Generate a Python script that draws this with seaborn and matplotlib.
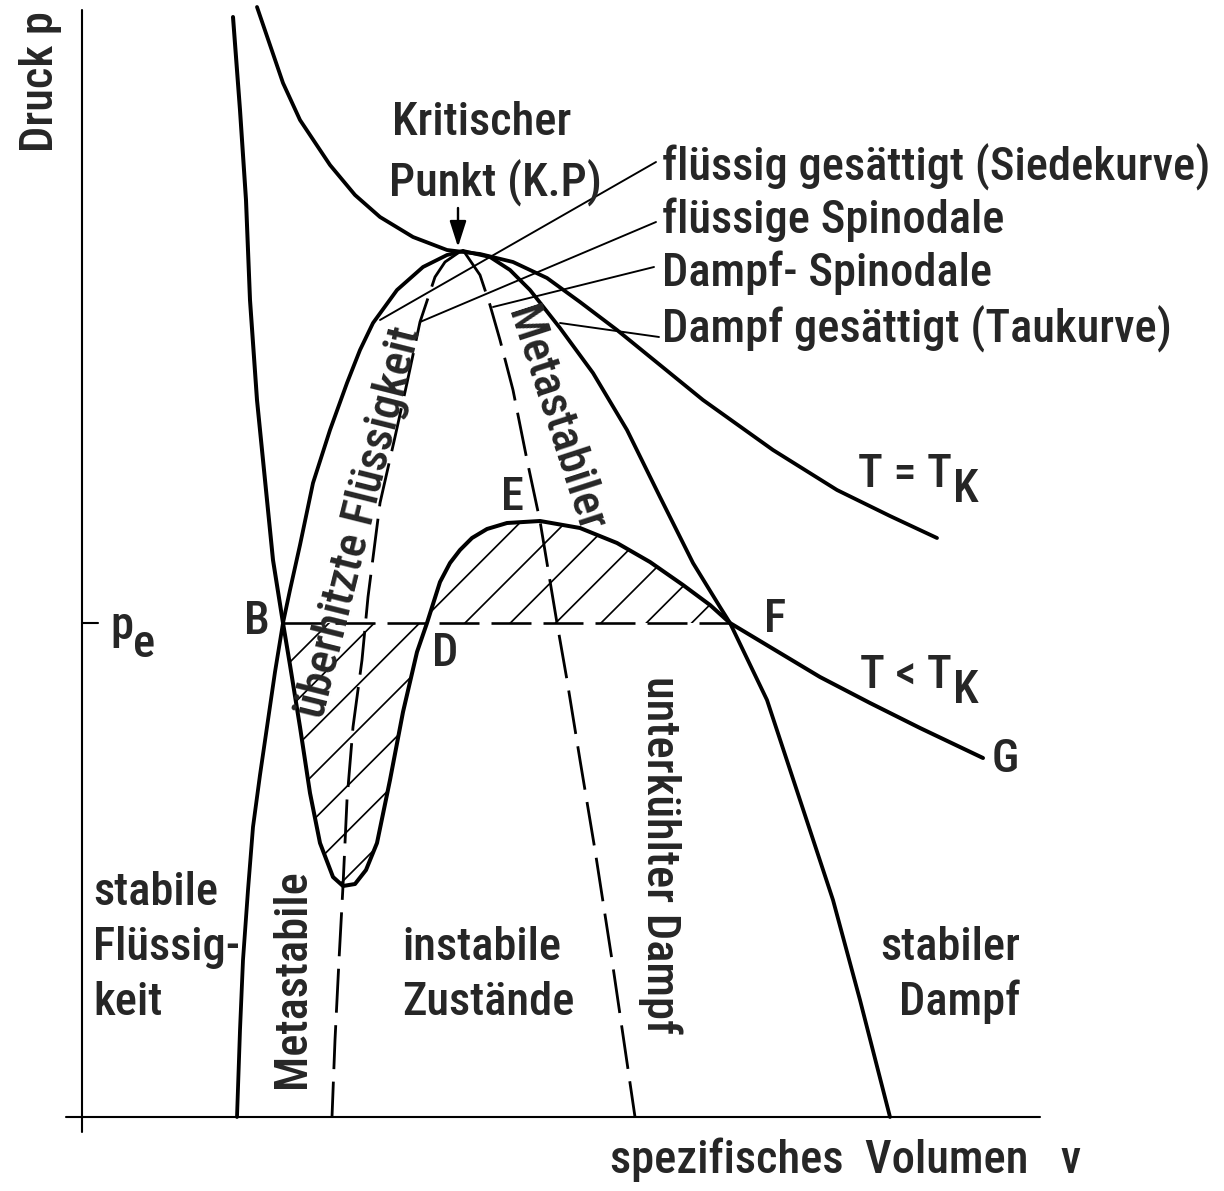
import matplotlib
matplotlib.use("Agg")
import matplotlib.pyplot as plt
import matplotlib.font_manager as fm
import seaborn as sns

# ---------------------------------------------------------------
# p-v diagram of a pure substance (schematic, arbitrary units)
# v: specific volume, p: pressure
# ---------------------------------------------------------------

# isotherm T < T_K (van der Waals loop B - D - E - F - G)
iso_low_v = [1.51, 1.58, 1.64, 1.68, 1.75, 1.83, 1.91, 2.01, 2.08, 2.18,
             2.28, 2.38, 2.51, 2.61, 2.73, 2.84, 2.95, 3.08, 3.21, 3.35,
             3.45, 3.58, 3.68, 3.78, 3.90, 4.05, 4.25, 4.58, 4.98, 5.35,
             5.68, 6.01, 6.28, 6.48, 6.93, 7.38, 7.88, 8.38, 9.01]
iso_low_p = [11.00, 10.07, 9.17, 8.17, 7.17, 6.37, 5.57, 4.94, 4.52, 3.90,
             3.24, 2.74, 2.40, 2.31, 2.33, 2.47, 2.74, 3.37, 4.05, 4.65,
             4.94, 5.35, 5.54, 5.67, 5.79, 5.88, 5.94, 5.96, 5.89, 5.74,
             5.55, 5.32, 5.12, 4.94, 4.67, 4.40, 4.14, 3.89, 3.59]

# critical isotherm T = T_K
iso_crit_v = [1.75, 1.88, 2.01, 2.18, 2.48, 2.73, 2.98, 3.31, 3.65, 3.98,
              4.31, 4.65, 4.98, 5.35, 5.78, 6.21, 6.91, 7.55, 8.08, 8.55]
iso_crit_p = [11.10, 10.72, 10.34, 9.97, 9.52, 9.22, 9.00, 8.80, 8.67, 8.63,
              8.55, 8.39, 8.15, 7.87, 7.52, 7.17, 6.67, 6.27, 6.01, 5.79]

# saturated liquid (Siedekurve), bottom up to the critical point
boil_v = [1.55, 1.58, 1.61, 1.66, 1.71, 1.78, 1.85, 1.93, 2.01, 2.08,
          2.18, 2.31, 2.48, 2.65, 2.78, 2.91, 3.15, 3.41, 3.65, 3.81]
boil_p = [0.00, 0.87, 1.57, 2.27, 2.90, 3.42, 3.90, 4.45, 4.94, 5.27,
          5.72, 6.34, 6.87, 7.34, 7.67, 7.94, 8.27, 8.50, 8.62, 8.66]

# saturated vapour (Taukurve), critical point down to the v axis
dew_v = [3.81, 4.08, 4.28, 4.48, 4.78, 5.11, 5.45, 5.78, 6.11, 6.38,
         6.48, 6.85, 7.18, 7.51, 7.78, 8.08]
dew_p = [8.66, 8.60, 8.47, 8.27, 7.89, 7.44, 6.87, 6.20, 5.54, 5.10,
         4.94, 4.17, 3.17, 2.17, 1.17, 0.00]

# liquid spinodal
spin_liq_v = [3.76, 3.63, 3.53, 3.38, 3.25, 3.13, 2.98, 2.86, 2.80, 2.71,
              2.65, 2.61, 2.57, 2.53, 2.50]
spin_liq_p = [8.64, 8.55, 8.40, 7.95, 7.34, 6.80, 6.14, 5.20, 4.57, 3.90,
              3.17, 2.31, 1.57, 0.77, 0.00]

# vapour spinodal
spin_vap_v = [3.83, 3.98, 4.08, 4.18, 4.31, 4.45, 4.58, 4.75, 4.85, 4.98,
              5.13, 5.30, 5.53]
spin_vap_p = [8.64, 8.42, 8.12, 7.77, 7.27, 6.57, 5.96, 4.94, 4.37, 3.57,
              2.67, 1.57, 0.00]

# equilibrium pressure p_e and the points B, D, F on it
p_e = 4.94
v_B, v_D, v_F = 2.01, 3.45, 6.48

# leader lines: (label end) -> (curve point)
leader_v0 = [5.74, 5.74, 5.72, 5.77]
leader_p0 = [9.55, 8.95, 8.50, 7.80]
leader_v1 = [2.98, 3.38, 4.11, 4.78]
leader_p1 = [7.97, 7.95, 8.10, 7.94]
leader_labels = ["flüssig gesättigt (Siedekurve)", "flüssige Spinodale",
                 "Dampf- Spinodale", "Dampf gesättigt (Taukurve)"]
leader_label_p = [9.36, 8.84, 8.31, 7.74]

# ---------------------------------------------------------------
sns.set_theme(style="white")
names = {f.name for f in fm.fontManager.ttflist}
font = next((n for n in ["Liberation Sans Narrow", "Roboto Condensed"]
             if n in names), "DejaVu Sans")
plt.rcParams["font.family"] = [font, "DejaVu Sans"]
plt.rcParams["font.weight"] = "medium"
if font == "DejaVu Sans":
    plt.rcParams["font.stretch"] = "condensed"

DPI = 136
PX = 72.0 / DPI          # one pixel in points


def px(n):
    return n * PX


plt.rcParams["hatch.color"] = "black"
plt.rcParams["hatch.linewidth"] = px(1.7)
plt.rcParams["lines.scale_dashes"] = False

FS = px(46.5)
INK = "black"

fig = plt.figure(figsize=(1224 / DPI, 1191 / DPI), dpi=DPI)
ax = fig.add_axes([0, 0, 1, 1])
ax.set_xlim(-0.82, 11.42)
ax.set_ylim(-0.74, 11.17)
ax.axis("off")


def curve(v, p, lw, ls="-"):
    sns.lineplot(x=v, y=p, sort=False, estimator=None, color=INK,
                 linewidth=px(lw), linestyle=ls, ax=ax,
                 solid_capstyle="round", dash_capstyle="butt")


SPIN_DASH = (0, (px(44), px(12.5)))
PE_DASH = (0, (px(40), px(12)))

# coordinate axes
curve([0.0, 0.0], [-0.15, 11.07], 2.1)
curve([-0.16, 9.58], [0.0, 0.0], 2.1)
curve([0.0, 0.16], [p_e, p_e], 2.1)

# hatched areas between the loop and the p_e line
lo = [i for i, v in enumerate(iso_low_v) if v_B <= v <= v_D]
up = [i for i, v in enumerate(iso_low_v) if v_D <= v <= v_F]
ax.fill_between([iso_low_v[i] for i in lo], [iso_low_p[i] for i in lo], p_e,
                facecolor="none", edgecolor=INK, hatch="/", linewidth=0)
ax.fill_between([iso_low_v[i] for i in up], [iso_low_p[i] for i in up], p_e,
                facecolor="none", edgecolor=INK, hatch="/", linewidth=0)

# p_e line
curve([v_B, v_F], [p_e, p_e], 2.6, PE_DASH)

# spinodals
curve(spin_liq_v, spin_liq_p, 2.8, SPIN_DASH)
curve(spin_vap_v, spin_vap_p, 2.8, SPIN_DASH)

# saturation lines and isotherms
curve(boil_v, boil_p, 3.8)
curve(dew_v, dew_p, 3.8)
curve(iso_crit_v, iso_crit_p, 3.8)
curve(iso_low_v, iso_low_p, 4.0)

# leader lines and their labels
for v0, p0, v1, p1 in zip(leader_v0, leader_p0, leader_v1, leader_p1):
    curve([v0, v1], [p0, p1], 1.9)
for txt, pl in zip(leader_labels, leader_label_p):
    ax.text(5.80, pl, txt, fontsize=FS, ha="left", va="baseline")

# critical point
ax.text(3.10, 9.82, "Kritischer", fontsize=FS, ha="left", va="baseline")
ax.text(3.07, 9.20, "Punkt (K.P)", fontsize=FS, ha="left", va="baseline")
ax.annotate("", xy=(3.76, 8.70), xytext=(3.76, 9.09),
            arrowprops=dict(arrowstyle="-|>,head_length=1.0,head_width=0.32",
                            mutation_scale=px(22), color=INK, lw=px(2.4),
                            shrinkA=0, shrinkB=0))

# axis titles
ax.text(-0.42, 10.35, "Druck p", fontsize=FS, rotation=90,
        ha="center", va="center")
ax.text(5.28, -0.56, "spezifisches  Volumen   v", fontsize=FS,
        ha="left", va="baseline")
ax.text(0.28, 4.78, "p", fontsize=FS, ha="left", va="baseline")
ax.text(0.51, 4.60, "e", fontsize=FS, ha="left", va="baseline")

# point labels
for lab, v, p in [("B", 1.75, 4.96), ("D", 3.63, 4.63), ("E", 4.30, 6.20),
                  ("F", 6.93, 4.97), ("G", 9.23, 3.57)]:
    ax.text(v, p, lab, fontsize=FS, ha="center", va="center")

# isotherm labels
t1 = ax.text(7.76, 6.30, "T = T", fontsize=FS, ha="left", va="baseline")
ax.annotate("K", xy=(1, 0), xycoords=t1, xytext=(px(1.5), px(-15)),
            textcoords="offset points", fontsize=FS, ha="left", va="bottom")
t2 = ax.text(7.78, 4.29, "T < T", fontsize=FS, ha="left", va="baseline")
ax.annotate("K", xy=(1, 0), xycoords=t2, xytext=(px(1.5), px(-15)),
            textcoords="offset points", fontsize=FS, ha="left", va="bottom")

# region labels
ax.text(0.11, 2.12, "stabile", fontsize=FS, ha="left", va="baseline")
ax.text(0.11, 1.57, "Flüssig-", fontsize=FS, ha="left", va="baseline")
ax.text(0.11, 1.02, "keit", fontsize=FS, ha="left", va="baseline")
ax.text(3.20, 1.57, "instabile", fontsize=FS, ha="left", va="baseline")
ax.text(3.20, 1.02, "Zustände", fontsize=FS, ha="left", va="baseline")
ax.text(9.38, 1.57, "stabiler", fontsize=FS, ha="right", va="baseline")
ax.text(9.38, 1.02, "Dampf", fontsize=FS, ha="right", va="baseline")
ax.text(2.10, 1.38, "Metastabile", fontsize=FS, rotation=90,
        ha="center", va="center", rotation_mode="anchor")
ax.text(2.78, 5.95, "überhitzte Flüssigkeit", fontsize=FS, rotation=76,
        ha="center", va="center", rotation_mode="anchor")
ax.text(4.73, 6.98, "Metastabiler", fontsize=FS, rotation=-72,
        ha="center", va="center", rotation_mode="anchor")
ax.text(5.78, 2.62, "unterkühlter Dampf", fontsize=FS, rotation=-90,
        ha="center", va="center", rotation_mode="anchor")

fig.savefig("out.png", dpi=DPI, facecolor="white")
